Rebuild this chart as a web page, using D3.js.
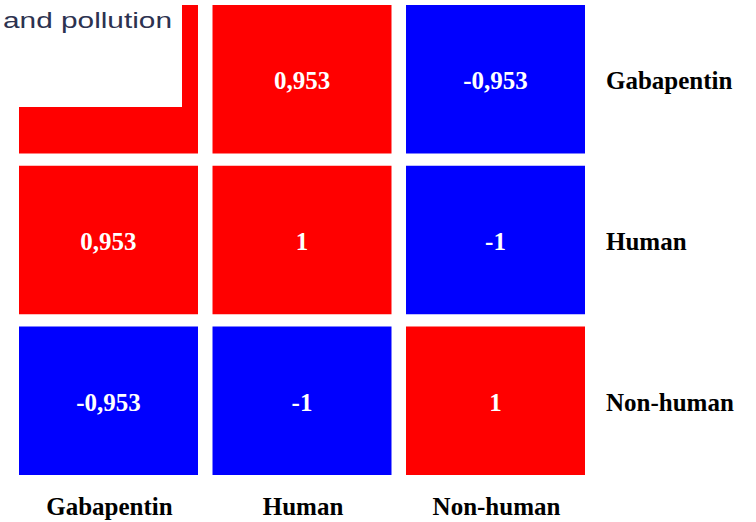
<!DOCTYPE html>
<html>
<head>
<meta charset="utf-8">
<script src="https://cdn.jsdelivr.net/npm/d3@7"></script>
<style>
  html, body { margin: 0; padding: 0; background: #ffffff; }
  svg { display: block; }
</style>
</head>
<body>
<svg id="chart" width="756" height="522"></svg>
<script>
// Correlation matrix between gabapentin and the two pollution sources
const variables = ["Gabapentin", "Human", "Non-human"];
const correlations = [
  [1, 0.953, -0.953],
  [0.953, 1, -1],
  [-0.953, -1, 1]
];
const captionText = "and pollution";

const svg = d3.select("#chart");

const x = d3.scaleBand().domain(variables).range([19, 585]).paddingInner(0.075).paddingOuter(0);
const y = d3.scaleBand().domain(variables).range([5, 475]).paddingInner(0.0762).paddingOuter(0);

const color = v => (v >= 0 ? "#ff0000" : "#0000ff");

const locale = d3.formatLocale({ decimal: ",", thousands: " ", grouping: [3], currency: ["", ""], minus: "-" });
const fmt = locale.format(".3~f");

const cells = [];
variables.forEach((rowName, i) => {
  variables.forEach((colName, j) => {
    cells.push({ row: rowName, col: colName, value: correlations[i][j] });
  });
});

const g = svg.append("g");

g.selectAll("rect.cell")
  .data(cells)
  .join("rect")
  .attr("class", "cell")
  .attr("x", d => x(d.col))
  .attr("y", d => y(d.row))
  .attr("width", x.bandwidth())
  .attr("height", y.bandwidth())
  .attr("fill", d => color(d.value));

g.selectAll("text.val")
  .data(cells)
  .join("text")
  .attr("class", "val")
  .attr("x", d => x(d.col) + x.bandwidth() / 2)
  .attr("y", d => y(d.row) + y.bandwidth() / 2 + 10)
  .attr("text-anchor", "middle")
  .attr("font-family", "'Liberation Serif', 'Times New Roman', serif")
  .attr("font-weight", "bold")
  .attr("font-size", 25)
  .attr("fill", "#ffffff")
  .text(d => fmt(d.value));

// Row labels on the right
svg.selectAll("text.rowlab")
  .data(variables)
  .join("text")
  .attr("class", "rowlab")
  .attr("x", 606)
  .attr("y", d => y(d) + y.bandwidth() / 2 + 10)
  .attr("font-family", "'Liberation Serif', 'Times New Roman', serif")
  .attr("font-weight", "bold")
  .attr("font-size", 25)
  .attr("fill", "#000000")
  .text(d => d);

// Column labels along the bottom
svg.selectAll("text.collab")
  .data(variables)
  .join("text")
  .attr("class", "collab")
  .attr("x", d => x(d) + x.bandwidth() / 2 + 1)
  .attr("y", 515)
  .attr("text-anchor", "middle")
  .attr("font-family", "'Liberation Serif', 'Times New Roman', serif")
  .attr("font-weight", "bold")
  .attr("font-size", 25)
  .attr("fill", "#000000")
  .text(d => d);

// Caption panel covering the top-left corner
svg.append("rect")
  .attr("x", 0).attr("y", 0)
  .attr("width", 182).attr("height", 107)
  .attr("fill", "#ffffff");

svg.append("text")
  .attr("x", 3)
  .attr("y", 28)
  .attr("font-family", "'Liberation Sans', Arial, sans-serif")
  .attr("font-size", 22)
  .attr("fill", "#2c3250")
  .attr("textLength", 169)
  .attr("lengthAdjust", "spacingAndGlyphs")
  .text(captionText);
</script>
</body>
</html>
